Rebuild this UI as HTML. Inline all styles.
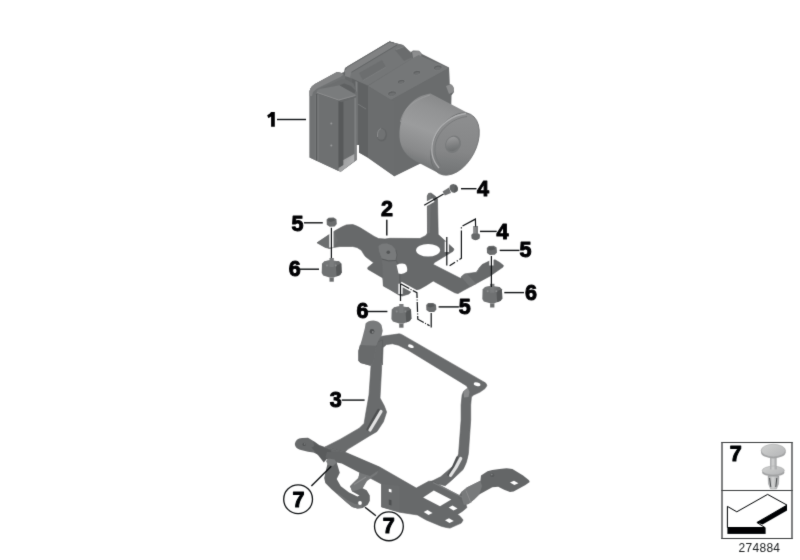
<!DOCTYPE html>
<html><head><meta charset="utf-8">
<style>
html,body{margin:0;padding:0;background:#fff;}
body{width:800px;height:560px;overflow:hidden;position:relative;}
svg{position:absolute;left:0;top:0;}
.lb{font-family:"Liberation Sans",sans-serif;font-weight:bold;font-size:21.5px;fill:#000;stroke:#000;stroke-width:1.0px;stroke-linejoin:round;}
.ln{stroke:#111;stroke-width:1.4;fill:none;}
</style></head>
<body>
<svg width="800" height="560" viewBox="0 0 800 560" style="filter:url(#tint)">
<filter id="tint" color-interpolation-filters="sRGB" x="0" y="0" width="800" height="560" filterUnits="userSpaceOnUse"><feConvolveMatrix order="3" kernelMatrix="0.01134 0.08382 0.01134 0.08382 0.61935 0.08382 0.01134 0.08382 0.01134" divisor="1" edgeMode="duplicate" preserveAlpha="false"/><feColorMatrix type="matrix" values="0.2152 0.7238 0.0731 0 -0.012  0.2126 0.7152 0.0722 0 0  0.2109 0.7095 0.0716 0 0.008  0 0 0 1 0"/></filter>
<!-- ABS UNIT -->
<defs>
 <linearGradient id="cylG" gradientUnits="userSpaceOnUse" x1="442" y1="96" x2="416" y2="166">
  <stop offset="0" stop-color="#888"/><stop offset="0.2" stop-color="#939393"/><stop offset="0.5" stop-color="#9c9c9c"/><stop offset="0.8" stop-color="#8a8a8a"/><stop offset="1" stop-color="#727272"/>
 </linearGradient>
 <linearGradient id="bossG" gradientUnits="userSpaceOnUse" x1="447" y1="137" x2="458" y2="151">
  <stop offset="0" stop-color="#a0a0a0"/><stop offset="0.5" stop-color="#848484"/><stop offset="1" stop-color="#6a6a6a"/>
 </linearGradient>
 <linearGradient id="capG" gradientUnits="userSpaceOnUse" x1="445" y1="118" x2="468" y2="172">
  <stop offset="0" stop-color="#8e8e8e"/><stop offset="0.6" stop-color="#868686"/><stop offset="1" stop-color="#747474"/>
 </linearGradient>
 <linearGradient id="floorG" gradientUnits="userSpaceOnUse" x1="340" y1="160" x2="356" y2="168">
  <stop offset="0" stop-color="#9a9a9a"/><stop offset="1" stop-color="#b8b8b8"/>
 </linearGradient>
 <linearGradient id="chanG" gradientUnits="userSpaceOnUse" x1="0" y1="100" x2="0" y2="170">
  <stop offset="0" stop-color="#616161"/><stop offset="0.7" stop-color="#686868"/><stop offset="0.85" stop-color="#8a8a8a"/><stop offset="1" stop-color="#9a9a9a"/>
 </linearGradient>
</defs>
<g id="abs">
  <path fill="#686868" d="M309.6,157.5 L309.6,91 Q310.5,86.5 315,84 L337.1,72 L341.4,73 L344,72 L345,68 L389.5,41.6 L394,42.7 L403,45 L407.5,49.5 L411,52 L413,50.6 L419,50.8 L422,54 L449,67.5 L449.6,84 L453,86 L454,92 L451,96 L450,150 L418,164.5 L394,176 L367.5,157.5 L359,152.5 L359,145 L356.5,145 L356.5,160 L341,171.5 L338.6,171 L316,160.5 Z"/>
  <!-- lid -->
  <path fill="#767676" d="M345,69 L389.5,41.6 L394,42.7 L403,45 L407.5,49.5 L411,54 L412,58.5 L368,85.5 L356,80.6 L352,78.4 L345,76 Z"/>
  <path fill="#6c6c6c" d="M395,50 L404,46.5 L411,53.5 L411.5,57.5 L404,61 Z"/>
  <path fill="none" stroke="#828282" stroke-width="0.9" d="M396,49.5 L404.5,46.5 L411,53"/>
  <path fill="#828282" d="M345,69 Q345.5,67 347.5,66.5 L389.5,41.6 L394,42.7 L397,44.5 L351.5,71.8 L350,77.5 L345,76 Z"/>
  <path fill="none" stroke="#5e5e5e" stroke-width="0.8" d="M345.2,70 Q345.8,67.3 347.8,66.6 L389.5,41.9 L394,43"/>
  <path fill="#6e6e6e" d="M359,73 L382,60 L386,67 L363,80.5 Z"/>
  <path fill="none" stroke="#7e7e7e" stroke-width="0.9" d="M363,80.5 L386,67"/>
  <path fill="none" stroke="#626262" stroke-width="0.9" d="M351.5,72.3 L397,45"/>
  <path fill="#8e8e8e" d="M412,51.5 L419,51 L421.5,54 L421,57.5 L413,58 Z"/>
  <!-- main block -->
  <path fill="#777" d="M367.9,86 L412,58.5 L418.7,55 L449,68 L391,100 Z"/>
  <path fill="#6d6d6d" d="M367.9,86 L391,100 L394,100.5 L394,176 L367.9,157.5 Z"/>
  <path fill="#6c6c6c" d="M391,100 L449,68 L449.6,92 L451.5,96 L450,150 L418,164.5 L394,176.5 L394,100.5 Z"/>
  <path fill="#8c8c8c" d="M446,86 L451,84 L454,88 L453.5,92 L449,94 Z"/>
<g>
   <ellipse cx="437.8" cy="67.6" rx="4.4" ry="2.6" transform="rotate(-8 437.8 67.6)" fill="#606060" stroke="#858585" stroke-width="0.6"/>
   <ellipse cx="437.8" cy="68.39999999999999" rx="3.1000000000000005" ry="1.6" transform="rotate(-8 437.8 67.6)" fill="#707070"/>
   <ellipse cx="416.8" cy="72.6" rx="3.9" ry="2.2" transform="rotate(-8 416.8 72.6)" fill="#606060" stroke="#858585" stroke-width="0.6"/>
   <ellipse cx="416.8" cy="73.39999999999999" rx="2.5999999999999996" ry="1.2000000000000002" transform="rotate(-8 416.8 72.6)" fill="#707070"/>
   <ellipse cx="401.2" cy="81.6" rx="3.9" ry="2.2" transform="rotate(-8 401.2 81.6)" fill="#606060" stroke="#858585" stroke-width="0.6"/>
   <ellipse cx="401.2" cy="82.39999999999999" rx="2.5999999999999996" ry="1.2000000000000002" transform="rotate(-8 401.2 81.6)" fill="#707070"/>
   <ellipse cx="392" cy="93.5" rx="4.4" ry="2.6" transform="rotate(-8 392 93.5)" fill="#606060" stroke="#858585" stroke-width="0.6"/>
   <ellipse cx="392" cy="94.3" rx="3.1000000000000005" ry="1.6" transform="rotate(-8 392 93.5)" fill="#707070"/>
  </g>
  <ellipse cx="381.8" cy="134.8" rx="5.2" ry="6.6" fill="#646464"/>
  <ellipse cx="381.2" cy="134.2" rx="4.3" ry="5.6" fill="#727272"/>
  <path fill="none" stroke="#8c8c8c" stroke-width="1" d="M377.5,137 Q377,130 381,128.5"/>
  <!-- post between ECU and block -->
  <path fill="#626262" d="M352,78.4 L356,80.6 L367.9,86 L367.9,157.5 L359,152.5 L359,145 L356.5,145 L356.5,95 L352,92 Z"/>
  <path fill="#808080" d="M355.5,81 L357.5,82 L357.5,145 L356.5,145 L356.5,92 L355.5,90 Z"/>
  <path fill="none" stroke="#7a7a7a" stroke-width="1" d="M357.8,104 L366,109"/>
  <!-- ECU rim -->
  <path fill="#727272" d="M309.6,157.5 L309.6,91 Q310.5,86.5 315,84 L337.1,72 L341.4,73 L343.6,74.5 L345,76 L345,80 L339,83 L318,92.5 L316,94 L316,160.5 Z"/>
  <path fill="#848484" d="M309.6,96 L309.6,91 Q310.5,86.5 315,84 L337.1,72 L341.4,73 L343.6,74.5 L340.5,77 L317,88.5 L313,92 L312,96 Z"/>
  <path fill="none" stroke="#7c7c7c" stroke-width="0.9" d="M315.3,95 L315.3,159"/>
  <!-- recess and connector -->
  <path fill="#6e6e6e" d="M321,88 L330,84.5 L341,79.5 L345,79 L353.6,83.5 L356,90 L356,95 Z"/>
  <path fill="#7c7c7c" d="M316.5,93 Q316.8,89.5 320,89 L339.6,85.2 L356.5,95 L338.6,100.7 Z"/>
  <path fill="#606060" d="M339.6,85.2 L344,83.5 L351,86 L355.5,90.5 L354.5,93.5 L347,89.5 Z"/>
  <path fill="none" stroke="#8e8e8e" stroke-width="0.9" d="M317,92.5 L338.6,100 L355.5,95.5"/>
  <path fill="#707070" d="M316,93 L338.6,100.7 L338.6,171 L316,160.5 Z"/>
  <path fill="none" stroke="#575757" stroke-width="0.9" d="M316.6,94 L316.6,160.5"/>
  <path fill="none" stroke="#7a7a7a" stroke-width="1.4" d="M318,95 L318,161"/>
  <path fill="#6c6c6c" d="M338.6,100.7 L341,102.2 L356,97.5 L356.5,160 L341,171.5 L338.6,171 Z"/>
  <path fill="#595959" d="M338.6,100.7 L341,102.2 L343.4,101.5 L343.4,166 L338.6,169 Z"/>
  <path fill="#808080" d="M354.3,98 L356.2,97.5 L356.5,160 L354.3,161.3 Z"/>
  <path fill="url(#floorG)" d="M343.4,160 L354.3,154 L354.3,161.3 L341,171.5 L338.6,171 L338.6,168 L343.4,165 Z"/>
  <circle cx="331.3" cy="123.5" r="1" fill="#9a9a9a"/>
  <circle cx="331.3" cy="145.5" r="1" fill="#9a9a9a"/>
  <!-- cylinder -->
  <path fill="url(#cylG)" d="M430.5,93.5 L470.7,114.4 L439.3,173.6 L416.3,161.4 C407,157 400,148 399.5,137 C399,124 403,110 411,103 C417,97.5 423,94.5 430.5,93.5 Z"/>
  <path fill="none" stroke="#a0a0a0" stroke-width="0.8" d="M400.5,122 C403,110 411,101 430,95"/>
  <ellipse cx="455" cy="144" rx="21" ry="33.5" transform="rotate(28 455 144)" fill="url(#capG)"/>
  <ellipse cx="455" cy="144" rx="21" ry="33.5" transform="rotate(28 455 144)" fill="none" stroke="#6e6e6e" stroke-width="0.8"/>
  <path fill="none" stroke="#b0b0b0" stroke-width="1.3" d="M466,113.5 C452,115 439,125 434,138 C430,149 432,160 439,168"/>
  <path fill="none" stroke="#767676" stroke-width="0.8" d="M467,116.5 C454,118 442,127 437,139 C433,149 435,159 441,166"/>
  <ellipse cx="453" cy="144.3" rx="7.6" ry="9" transform="rotate(28 453 144.3)" fill="#7a7a7a"/>
  <ellipse cx="452.6" cy="144" rx="6.2" ry="7.4" transform="rotate(28 452.6 144)" fill="url(#bossG)"/>
</g>
<!-- BRACKET 2 -->
<g id="br2">
  <path fill="#696969" stroke="#5a5a5a" stroke-width="0.6" d="M317,242.8 L328.2,235.3 L334.6,231 L342.1,226.8 L346.4,224.9 L352.8,224.6 L356,225.7 L360.3,227.8 L374.2,236.4 L378.5,238.6 L385,239 L390,238.3 L420,238.5 L426,235.5 L427.5,233 L427.3,196 L428.5,193.5 L431,193 L436,196.8 L437.5,199 L438.2,234.5 L454,249 L453,251.25 L434.5,262.5 L433.2,264.4 L460.4,278.3 L464.5,273.9 L476.5,272.3 L479.7,267.4 L482.1,264.6 L489.4,261 L495,259.8 L499.8,262.6 L503.4,265.4 L503,267 L490.2,275.9 L474.1,284.7 L463.7,290.3 L458,293.6 L454.8,292.8 L433.2,281 L426.25,285.4 L420,288.9 L411.2,291.6 L409,293.9 L402.2,296 L399,295 L389.8,289.5 L383.4,286 L382.8,277.9 L367.8,269.2 L367.8,267.5 L373.6,262.8 L365.4,256.5 L363.7,254.1 L361.4,250.3 L357.1,247.5 L352.8,246.5 L340,246.5 L333.6,247.5 L329.3,248.5 L325,247.3 Z"/>
  <!-- lighter left tip -->
  <path fill="#6e6e6e" d="M317,242.8 L328.2,235.3 L334,231.5 L338,240 L334,247.3 L329.3,248.5 L325,247.3 Z"/>
  <!-- folded tab -->
  <path fill="#6f6f6f" d="M378.5,246 L382,243.8 L387,243.5 L392,245.5 L395.5,249.5 L396.8,255 L396,260 L398,265 L399.5,270 L399.5,292 L399,295 L389.8,289.5 L383.4,286 L382.8,277.9 L382.5,266 L381.5,258 L379,251 Z"/>
  <path fill="#7a7a7a" d="M378.5,246 L382,243.8 L387,243.5 L392,245.5 L395.5,249.5 L396.8,255 L396,260 L390,260.5 L381.8,258.5 L379,251 Z"/>
  <path fill="none" stroke="#585858" stroke-width="0.9" d="M381.8,259 Q388,262 396,260.5"/>
  <path fill="none" stroke="#5c5c5c" stroke-width="0.8" d="M395.8,249.5 L397,255 L396,260 L398.5,266 L399.8,272 L399.8,293"/>
  <circle cx="388.3" cy="252.3" r="1.8" fill="#555"/>
  <!-- tab highlight -->
  <path fill="#737373" d="M427.3,196 L428.5,193.5 L431,193 L430,233 L427.5,233 Z"/>
  <!-- holes -->
  <ellipse cx="428.1" cy="250.2" rx="12" ry="6.3" fill="#fff"/>
  <path fill="#fff" d="M396.6,265 Q401,262.8 405,264 Q408,267 407,271.5 Q403,275 398.5,273.5 Z"/>
  <!-- step shading on right arm -->
  <path fill="#747474" d="M461,276.5 L464.5,273.9 L467,274 L476.5,284 L474.1,284.7 L470,287 Z"/>
  <path fill="none" stroke="#7c7c7c" stroke-width="1" d="M476.5,272.5 L480,267.2"/>
</g>
<!-- BRACKET 3 -->
<defs>
 <linearGradient id="hl1" gradientUnits="userSpaceOnUse" x1="370" y1="428" x2="382" y2="411">
  <stop offset="0" stop-color="#7a7a7a"/><stop offset="0.5" stop-color="#c8c8c8"/><stop offset="1" stop-color="#8a8a8a"/>
 </linearGradient>
 <linearGradient id="hl2" gradientUnits="userSpaceOnUse" x1="450" y1="476" x2="462" y2="456">
  <stop offset="0" stop-color="#7a7a7a"/><stop offset="0.5" stop-color="#c8c8c8"/><stop offset="1" stop-color="#8a8a8a"/>
 </linearGradient>
</defs>
<g id="br3">
  <!-- upper bar + right vertical -->
  <path fill="#6b6b6b" stroke="#5c5c5c" stroke-width="0.6" d="M376.75,342.25 Q378,337 382,336.25 L392.5,334.75 L399.25,333.85 L401.5,334.4 L482.9,381.4 Q487,383 486.8,385.7 L485,388.6 L480,392.1 L473.6,395 L471.4,397.1 L470.7,405 L470.7,420 L468.4,453.6 Q467,463 463,469.6 L451.4,480.4 L445.2,485.7 L430,482.1 L440.7,476.8 L453.2,466 Q457.5,460 458.6,453.6 L461.1,420 L461.1,405 L462.1,395 L463.6,391.4 L467.9,387.9 L466.4,385.7 L407.5,349.75 L398.5,345.25 L392.5,343.75 L386.5,344.5 L383.1,347.5 L382.4,365 Z"/>
  <ellipse cx="410.9" cy="346.2" rx="3" ry="1.6" fill="#fff" transform="rotate(20 410.9 346.2)"/>
  <ellipse cx="477.1" cy="384.3" rx="3.4" ry="1.8" fill="#fff" transform="rotate(15 477.1 384.3)"/>
  <path fill="#8a8a8a" d="M463.6,391.4 L467.9,387.9 L469.5,392 L468.6,397 L464,397.5 Z"/>
  <path fill="none" stroke="#505050" stroke-width="2.2" stroke-linecap="round" d="M457.3,457.3 Q453.5,467 448.4,474.8"/>
  <path fill="none" stroke="#e2e2e2" stroke-width="3.2" stroke-linecap="round" d="M460.7,458.5 Q456.2,468 450.6,475.4"/>
  <!-- left arm -->
  <path fill="#6b6b6b" stroke="#5c5c5c" stroke-width="0.6" d="M376.75,342.25 L382.7,340 L381.5,370 L380,398 L384.2,405.7 L386.6,412.1 L383.4,421.8 L377,431.4 L368.9,436.2 L348,449.1 L344.8,452.3 L325,447 L340,439.4 L359.3,428.2 L364.1,423.4 L366,412 L369,395 L371,366 Z"/>
  <path fill="none" stroke="#505050" stroke-width="2.4" stroke-linecap="round" d="M378.6,410 Q373,419 367.6,429.5"/>
  <path fill="none" stroke="#e2e2e2" stroke-width="3.2" stroke-linecap="round" d="M381,411.5 Q375.5,421 370,430"/>
  <!-- top tab -->
  <path fill="#7a7a7a" d="M365.6,323.6 Q368,320.5 373.4,320.5 Q379,320.8 381.5,325 L382.7,330.7 L381.5,336 L379.1,339.3 L376.3,345 L373.4,362 L370.6,365.7 L360.6,362.9 L358.4,360.7 L358.4,350.7 L362,339.3 L364.9,327.9 Z"/>
  <path fill="#6a6a6a" d="M359.9,345 L376.3,345.7 L373.4,362 L370.6,365.7 L360.6,362.9 L358.4,360.7 L358.4,350.7 Z"/>
  <circle cx="372" cy="331.4" r="2.4" fill="#505050"/>
  <circle cx="372.8" cy="332" r="0.9" fill="#8a8a8a"/>
  <!-- lower long bar -->
  <path fill="#696969" stroke="#5c5c5c" stroke-width="0.6" d="M320,445.7 L324,447 L345.6,452.4 L380,467.2 L416.25,488.1 L428.75,481.25 L432.5,481.25 L465,498.75 L467.5,492.9 L462,496.4 L465,501.25 L466.9,507.5 L462.5,511.25 L457.5,514.4 L460,516.25 L463.1,520 L461.25,523.1 L450,528.1 L446.25,527.5 L441.25,526.25 L426.25,520 L417.5,515 L399.5,512.2 L381.5,506.9 L381.5,484 L370,478 L356.3,472.5 L338.9,461.8 L326,458.5 L318.8,455 Z"/>
  <!-- right foot -->
  <path fill="#666" d="M458,497 L461.4,492.1 L467.3,487.3 L480.4,480.8 L481,475.4 L487.5,471.3 L492.3,470.1 L499.4,468.9 L506.5,468.3 L512.4,468.9 L523.1,475.4 L529,480.2 L529.7,482 L525.5,485 L513.6,491.5 L510,492.1 L504.1,489.7 L498.2,486.7 L492.3,487.3 L479.2,494.4 L474.4,499.2 L468.5,504 L463.8,505.1 Z"/>
  <path fill="#7a7a7a" d="M461.4,492.1 L467.3,487.3 L480.4,480.8 L482,486 L479.2,494.4 L474.4,499.2 L468.5,504 L463.8,505.1 L462,499 Z"/>
  <path fill="none" stroke="#8c8c8c" stroke-width="1" d="M466,490.5 L471,503"/>
  <path fill="#fff" d="M510,482.5 L514,480.8 L518.4,483.2 L514.4,485 Z"/>
  <circle cx="492.3" cy="475.2" r="1.9" fill="#5a5a5a"/>
  <circle cx="491.8" cy="474.6" r="0.8" fill="#888"/>
  <path fill="none" stroke="#7e7e7e" stroke-width="1.2" d="M433,482.5 L463,497.5"/>
  <!-- lower plate holes -->
  <path fill="#fff" d="M423.1,497.5 L433.75,490.6 L451.25,499.4 L440,506.25 Z"/>
  <path fill="#fff" d="M423.75,512 L427.5,510 L432.5,513 L428.5,515 Z"/>
  <path fill="#fff" d="M448.75,507.5 L452.5,505.5 L457.5,508.5 L453.5,510.5 Z"/>
  <path fill="#fff" d="M445,520.2 L449,518.2 L453.75,521 L449.5,523 Z"/>
  <!-- vertical flange -->
  <path fill="#6c6c6c" d="M381.5,484 L399.5,486.1 L399.5,512.2 L381.5,506.9 Z"/>
  <path fill="#fff" d="M388.8,488.8 L391.5,489.6 L391.5,492.6 L388.8,491.8 Z"/>
  <path fill="#4e4e4e" d="M388.8,499.5 L391.5,500.2 L391.5,505.5 L388.8,504.7 Z"/>
  <!-- left tab -->
  <path fill="#6a6a6a" d="M294.8,444 Q295.5,438.5 302,437.9 L308,437.7 L314.7,441.7 L320,445.7 L324.1,447.7 L325.5,459.1 L318.8,455 L313.4,452.4 L308,451.8 L300,449.7 Q295,448 294.8,444 Z"/>
  <path fill="#5e5e5e" d="M313.4,441.5 L320,445.7 L324.1,447.7 L325.5,459.1 L318.8,455 L315,452.5 Z"/>
  <circle cx="304.2" cy="444.4" r="1.7" fill="#555"/>
  <circle cx="304.7" cy="444" r="0.7" fill="#888"/>
  <!-- dark bend under tab -->
  <path fill="#5b5b5b" d="M311.5,447.5 L316,445.2 L322,446.8 L330.5,450 L333.5,456 L333.5,461.8 L326.8,459 L323.8,462.5 L318,455 Z"/>
  <!-- U clip -->
  <path fill="#666" d="M325.5,457 L328.4,460.3 L326,470 L324.2,477.9 L325.3,483.1 L331.5,489.3 L338.7,495.5 L347,502.8 L352.2,507 L357.4,508.5 L362.6,508 L367.7,504.8 L369.8,500.7 L369.8,495.5 L366.7,490.3 L362.6,488.3 L365,483 L370,476 L378,470.7 L380,467.2 L345.6,452.4 L327,452 Z"/>
  <path fill="#fff" d="M336.7,462.4 L339.8,472.7 L336.7,479 L340.8,486.2 L349.1,492.4 L357.4,496.6 L359.5,495.5 L352.2,491.4 L350.1,486.2 L353.2,483.1 L358.4,477.9 L359.5,472.7 L341.8,463.4 Z"/>
  <path fill="#787878" d="M350.1,486.2 L353.2,483.1 L358.4,477.9 L359.5,472.7 L370,476 L378,470.7 L377,474 L367,481 L362.6,488.3 L356,490.5 L352.2,491.4 Z"/>
  <path fill="none" stroke="#8e8e8e" stroke-width="1.2" d="M354,484.5 L366,477"/>
  <path fill="#7c7c7c" d="M326,461 L328.4,458.5 L334.5,459.5 L336.7,462.4 L333,466 L328,465 Z"/>
  <path fill="#747474" d="M338,493 L347,500 L355,504 L362,504.5 L362.6,508 L357.4,508.5 L352.2,507 L347,502.8 L338.7,495.5 Z"/>
  <circle cx="360" cy="503" r="1.9" fill="#fff"/>
</g>
<!-- HARDWARE -->
<defs>
 <g id="mount">
  <path fill="#717171" d="M-9.6,-5.2 L-7.1,-7.7 L-2.1,-8.7 L7.2,-7.7 L9.7,-5.2 L10.1,3.5 L8.5,6 L2.2,8.5 L-2.1,8.5 L-8.4,6.6 L-9.9,4.1 Z"/>
  <path fill="#585858" d="M4,-7 L7.2,-7.7 L9.7,-5.2 L10.1,3.5 L8.5,6 L5,7.5 Z"/>
  <path fill="#787878" d="M-9.6,-5.2 L-7.1,-7.7 L-2.1,-8.7 L7.2,-7.7 L9.7,-5.2 L2,-3 L-3,-3 Z" opacity="0.7"/>
  <rect x="-2.1" y="-11" width="4.3" height="9" fill="#7c7c7c"/>
  <circle cx="-4.6" cy="-3.6" r="1" fill="#8c8c8c"/><circle cx="4.2" cy="-3.6" r="1" fill="#8c8c8c"/>
  <rect x="-2.1" y="8.5" width="4.3" height="4.2" fill="#6e6e6e"/>
 </g>
 <g id="nut">
  <path fill="#6c6c6c" d="M-5,-2.5 L-3,-4.4 L2,-4.6 L4.8,-2.8 L5.2,2 L3,4.4 L-2,4.6 L-4.8,2.6 Z"/>
  <path fill="#585858" d="M-3,-3.2 L2,-3.4 L3.5,-1.5 L-1,0 L-3.8,-1 Z"/>
 </g>
</defs>
<use href="#mount" x="331.6" y="269"/>
<use href="#mount" x="492.2" y="294.8"/>
<use href="#mount" x="401.3" y="315"/>
<use href="#nut" x="331.6" y="222.1"/>
<use href="#nut" x="491.8" y="250.4"/>
<use href="#nut" x="431.2" y="307.5"/>
<!-- bolt top -->
<g>
 <path fill="#727272" d="M442.6,191.6 L449,187.5 L451,193 L444.8,195.5 Z"/>
 <ellipse cx="453.6" cy="188.4" rx="3.8" ry="4.4" transform="rotate(-30 453.6 188.4)" fill="#666"/>
 <path fill="#5a5a5a" d="M455,184.5 Q459,186 457.5,191 L454,192.5 Z"/>
</g>
<!-- bolt mid -->
<g>
 <path fill="#7a7a7a" d="M473.2,226 L478,226 L478,235 L473.2,235 Z"/>
 <path fill="#8e8e8e" d="M474.2,226.5 L475.6,226.5 L475.6,234.5 L474.2,234.5 Z"/>
 <path fill="#676767" d="M471.3,235.5 Q471.5,233.5 473,233.5 L478.2,233.5 Q479.8,233.5 480,235.5 L479.6,238.5 Q477.5,240.3 475.6,240.3 Q473.5,240.3 471.6,238.5 Z"/>
</g>
<!-- dashed / hidden lines -->
<g fill="none" stroke-linecap="butt">
 <!-- white casings -->
 <path stroke="#fff" stroke-width="4.2" d="M424.2,205.2 L433.5,200 M331.4,231 L331.4,247.5 M446.8,241.5 L446.8,252 M491.4,258 L491.4,265.5 M400.5,283.7 L416.9,292.7 M400.5,283.7 L400.5,294"/>
 <path stroke="#111" stroke-width="1.2" d="M424.2,205.2 L443.6,193.9"/>
 <path stroke="#111" stroke-width="1.2" d="M331.4,227.7 L331.4,258"/>
 <path stroke="#111" stroke-width="1.2" d="M491.4,256 L491.4,287"/>
 <path stroke="#111" stroke-width="1.2" stroke-dasharray="22 2 1.2 2 30 2 1.2 2" d="M475.6,226.5 L475.4,219.1 L461.4,226.6 L461.4,258.2 L449.6,265.7"/>
 <path stroke="#111" stroke-width="1.2" d="M446.8,237 L446.8,265.5"/>
 <path stroke="#111" stroke-width="1.2" stroke-dasharray="10 1.5 1 1.5" d="M400.5,283.7 L416.9,292.7 L417.8,319.2 L429.6,325.7"/>
 <path stroke="#111" stroke-width="1.2" d="M400.5,283.7 L400.5,301"/>
 <path stroke="#111" stroke-width="1.2" d="M431.2,313 L431.2,327.4"/>
</g>
<!-- Labels -->
<g filter="none">
<path d="M271.1,112.1 L274.8,112.1 L274.8,126.7 L271.1,126.7 L271.1,116.6 Q269.7,117.7 268.2,118 L267.2,115.3 Q270,114 271.1,112.1 Z" fill="#000"/>
<line class="ln" x1="277" y1="119.5" x2="306" y2="119.5"/>
<text class="lb" x="477" y="195.75">4</text>
<line class="ln" x1="461" y1="188.7" x2="476.5" y2="188.7"/>
<text class="lb" x="291.6" y="230.5">5</text>
<line class="ln" x1="304" y1="222.8" x2="322.8" y2="222.8"/>
<text class="lb" x="381" y="216.25">2</text>
<line class="ln" x1="386.8" y1="219.8" x2="386.8" y2="235.5"/>
<text class="lb" x="496.55" y="238.95">4</text>
<line class="ln" x1="480" y1="231.4" x2="496.7" y2="231.4"/>
<text class="lb" x="519.55" y="257.35">5</text>
<line class="ln" x1="499.7" y1="250.4" x2="519.5" y2="250.4"/>
<text class="lb" x="288.65" y="276.25">6</text>
<line class="ln" x1="300" y1="269.2" x2="319" y2="269.2"/>
<text class="lb" x="525" y="300.25">6</text>
<line class="ln" x1="504.3" y1="292.6" x2="524" y2="292.6"/>
<text class="lb" x="356.4" y="318.1">6</text>
<line class="ln" x1="367.3" y1="311.5" x2="387.4" y2="311.5"/>
<text class="lb" x="458.75" y="314.3">5</text>
<line class="ln" x1="438.6" y1="306.9" x2="458.9" y2="306.9"/>
<text class="lb" x="329.7" y="407">3</text>
<line class="ln" x1="341.75" y1="400.1" x2="364.6" y2="400.1"/>

<!-- circled 7s -->
<circle cx="298.1" cy="499.2" r="14.4" fill="#fff" stroke="#111" stroke-width="1.3"/>
<text class="lb" x="292.5" y="506.5">7</text>
<line class="ln" x1="311.4" y1="486" x2="331.25" y2="466.25"/>
<circle cx="388.9" cy="526.35" r="14.4" fill="#fff" stroke="#111" stroke-width="1.3"/>
<text class="lb" x="382.8" y="533">7</text>
<line class="ln" x1="375.9" y1="515.7" x2="365" y2="507.2"/>
</g>

<!-- Legend -->
<rect x="722" y="442.5" width="70" height="96" fill="#fff"/>
<g stroke-width="1" fill="none">
<line x1="721.3" y1="442.5" x2="792.7" y2="442.5" stroke="#3c3c3c"/>
<line x1="721.3" y1="490.5" x2="792.7" y2="490.5" stroke="#3c3c3c"/>
<line x1="721.3" y1="538.5" x2="792.7" y2="538.5" stroke="#3c3c3c"/>
<line x1="722" y1="442" x2="722" y2="539" stroke="#4a4a4a" stroke-width="1.4"/>
<line x1="792" y1="442" x2="792" y2="539" stroke="#4a4a4a" stroke-width="1.4"/>
</g>

<text class="lb" x="729.8" y="460.75">7</text>
<defs>
 <linearGradient id="capT" x1="0" y1="0" x2="1" y2="1">
  <stop offset="0" stop-color="#d2d2d2"/><stop offset="1" stop-color="#b4b4b4"/>
 </linearGradient>
 <linearGradient id="stemG" x1="0" y1="0" x2="1" y2="0">
  <stop offset="0" stop-color="#a8a8a8"/><stop offset="0.45" stop-color="#d4d4d4"/><stop offset="1" stop-color="#a0a0a0"/>
 </linearGradient>
</defs>
<rect x="770" y="455" width="6.6" height="13" fill="url(#stemG)"/>
<ellipse cx="773.3" cy="452.2" rx="12.3" ry="6.2" fill="#a4a4a4"/>
<ellipse cx="773.3" cy="450.6" rx="12.2" ry="6.3" fill="url(#capT)" stroke="#9a9a9a" stroke-width="0.5"/>
<path d="M768,476 L779,476 L778.5,484 L776.5,489 L770.5,489 L768.5,484 Z" fill="url(#stemG)" stroke="#909090" stroke-width="0.4"/>
<path d="M769.6,478 L770.8,487 M776.8,478 L775.8,487" stroke="#4a4a4a" stroke-width="1"/>
<ellipse cx="773.3" cy="472.6" rx="11.2" ry="3.8" fill="#a2a2a2"/>
<ellipse cx="773.3" cy="470.6" rx="11.1" ry="4.4" fill="url(#capT)" stroke="#9a9a9a" stroke-width="0.5"/>
<rect x="770" y="466.5" width="6.6" height="3" fill="url(#stemG)"/>
<!-- arrow -->
<path d="M727.4,506.4 L736.8,511.8 L767.6,494.4 L787,505.1 L756.9,522.5 L764.9,527.5 L727.4,527.5 Z" fill="#fff" stroke="#000" stroke-width="1"/>
<rect x="727.4" y="527.5" width="38.2" height="6.4" fill="#000"/>
<path d="M787,505.1 L787,510.4 L762.5,524.5 L756.9,522.5 Z" fill="#000"/>
<text x="738.5" y="552" font-family="Liberation Sans, sans-serif" font-size="12" fill="#222" letter-spacing="0.3">274884</text>
</svg>
</body></html>
